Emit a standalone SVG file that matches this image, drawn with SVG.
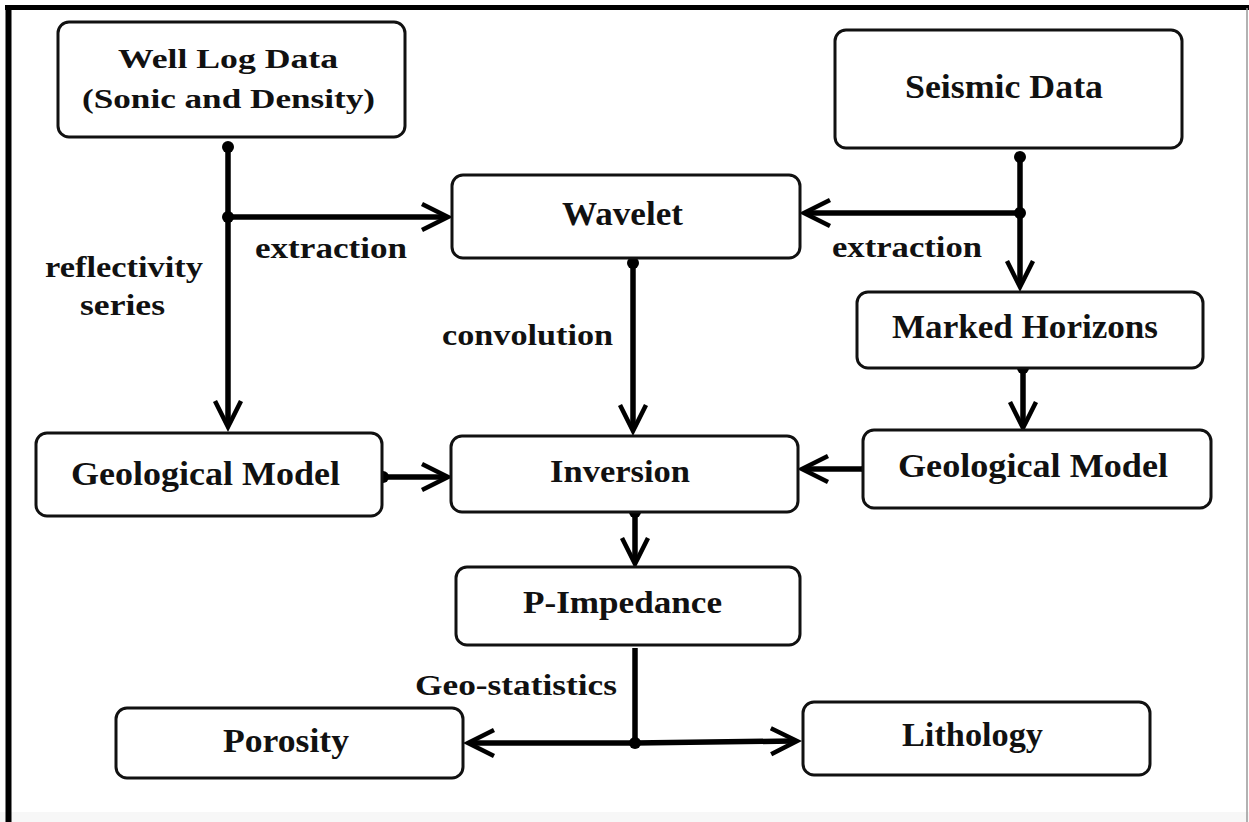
<svg xmlns="http://www.w3.org/2000/svg" width="1249" height="822" viewBox="0 0 1249 822">
<style>
.box{fill:#fff;stroke:#111;stroke-width:3}
.t{font-family:"Liberation Serif","Times New Roman",serif;font-weight:bold;fill:#111;text-anchor:start}
.ln{stroke:#000;stroke-width:5.5;fill:none}
.dot{fill:#000}
</style>
<defs>
<marker id="ah" markerUnits="userSpaceOnUse" viewBox="-30 -18 40 36" refX="0" refY="0" markerWidth="40" markerHeight="36" orient="auto">
<path d="M-22,-13 L4,0 L-22,13" fill="none" stroke="#000" stroke-width="4.5" stroke-linejoin="miter" stroke-miterlimit="10"/>
</marker>
</defs>
<rect x="0" y="0" width="1249" height="822" fill="#fff"/>
<rect x="0" y="812" width="1249" height="10" fill="#f7f7f7"/>
<g id="frame">
<line x1="5" y1="7.5" x2="1249" y2="7.5" stroke="#000" stroke-width="5"/>
<line x1="8.5" y1="5" x2="8.5" y2="822" stroke="#000" stroke-width="6"/>
<line x1="1247" y1="8" x2="1247" y2="822" stroke="#999" stroke-width="1.5"/>
</g>
<g id="connectors">
<line class="ln" x1="228" y1="147" x2="228" y2="423" marker-end="url(#ah)"/>
<line class="ln" x1="228" y1="217" x2="444" y2="217" marker-end="url(#ah)"/>
<circle class="dot" cx="228" cy="147" r="6"/>
<circle class="dot" cx="228" cy="217" r="6"/>
<line class="ln" x1="1020" y1="157" x2="1020" y2="283" marker-end="url(#ah)"/>
<line class="ln" x1="1020" y1="213" x2="808" y2="213" marker-end="url(#ah)"/>
<circle class="dot" cx="1020" cy="157" r="6"/>
<circle class="dot" cx="1020" cy="213" r="6"/>
<line class="ln" x1="633" y1="263" x2="633" y2="427" marker-end="url(#ah)"/>
<circle class="dot" cx="633" cy="263" r="6"/>
<line class="ln" x1="383" y1="477" x2="444" y2="477" marker-end="url(#ah)"/>
<circle class="dot" cx="383" cy="477" r="6"/>
<line class="ln" x1="867" y1="469" x2="806" y2="469" marker-end="url(#ah)"/>
<circle class="dot" cx="867" cy="469" r="6"/>
<line class="ln" x1="1023" y1="368" x2="1023" y2="424" marker-end="url(#ah)"/>
<circle class="dot" cx="1023" cy="368" r="6"/>
<line class="ln" x1="635" y1="512" x2="635" y2="560" marker-end="url(#ah)"/>
<circle class="dot" cx="635" cy="512" r="6"/>
<line class="ln" x1="635" y1="648" x2="635" y2="743"/>
<line class="ln" x1="635" y1="743" x2="472" y2="743" marker-end="url(#ah)"/>
<line class="ln" x1="635" y1="743" x2="793" y2="741" marker-end="url(#ah)"/>
<circle class="dot" cx="635" cy="743" r="6"/>
</g>
<g id="n-welllog">
<rect class="box" x="58" y="22" width="347" height="115" rx="11"/>
<text class="t" x="118" y="68" font-size="28" textLength="220" lengthAdjust="spacingAndGlyphs">Well Log Data</text>
<text class="t" x="82" y="108" font-size="28" textLength="293" lengthAdjust="spacingAndGlyphs">(Sonic and Density)</text>
</g>
<g id="n-seismic">
<rect class="box" x="835" y="30" width="347" height="118" rx="11"/>
<text class="t" x="905" y="98" font-size="34" textLength="198" lengthAdjust="spacingAndGlyphs">Seismic Data</text>
</g>
<g id="n-wavelet">
<rect class="box" x="452" y="175" width="348" height="83" rx="11"/>
<text class="t" x="562" y="225" font-size="33" textLength="121" lengthAdjust="spacingAndGlyphs">Wavelet</text>
</g>
<g id="n-marked">
<rect class="box" x="857" y="292" width="346" height="76" rx="11"/>
<text class="t" x="892" y="338" font-size="33" textLength="266" lengthAdjust="spacingAndGlyphs">Marked Horizons</text>
</g>
<g id="n-geo-left">
<rect class="box" x="36" y="433" width="346" height="83" rx="11"/>
<text class="t" x="71" y="485" font-size="33" textLength="269" lengthAdjust="spacingAndGlyphs">Geological Model</text>
</g>
<g id="n-inversion">
<rect class="box" x="451" y="436" width="347" height="76" rx="11"/>
<text class="t" x="550" y="482" font-size="31" textLength="140" lengthAdjust="spacingAndGlyphs">Inversion</text>
</g>
<g id="n-geo-right">
<rect class="box" x="863" y="430" width="348" height="78" rx="11"/>
<text class="t" x="898" y="477" font-size="33" textLength="270" lengthAdjust="spacingAndGlyphs">Geological Model</text>
</g>
<g id="n-pimp">
<rect class="box" x="456" y="567" width="344" height="78" rx="11"/>
<text class="t" x="523" y="613" font-size="31" textLength="199" lengthAdjust="spacingAndGlyphs">P-Impedance</text>
</g>
<g id="n-porosity">
<rect class="box" x="116" y="708" width="347" height="70" rx="11"/>
<text class="t" x="223" y="752" font-size="33" textLength="126" lengthAdjust="spacingAndGlyphs">Porosity</text>
</g>
<g id="n-lithology">
<rect class="box" x="803" y="702" width="347" height="73" rx="11"/>
<text class="t" x="902" y="746" font-size="33" textLength="141" lengthAdjust="spacingAndGlyphs">Lithology</text>
</g>
<g id="labels">
<text class="t" x="255" y="258" font-size="29" textLength="152" lengthAdjust="spacingAndGlyphs">extraction</text>
<text class="t" x="832" y="257" font-size="29" textLength="150" lengthAdjust="spacingAndGlyphs">extraction</text>
<text class="t" x="45" y="277" font-size="29" textLength="158" lengthAdjust="spacingAndGlyphs">reflectivity</text>
<text class="t" x="80" y="315" font-size="29" textLength="85" lengthAdjust="spacingAndGlyphs">series</text>
<text class="t" x="442" y="345" font-size="29" textLength="171" lengthAdjust="spacingAndGlyphs">convolution</text>
<text class="t" x="415" y="695" font-size="30" textLength="202" lengthAdjust="spacingAndGlyphs">Geo-statistics</text>
</g>
</svg>
